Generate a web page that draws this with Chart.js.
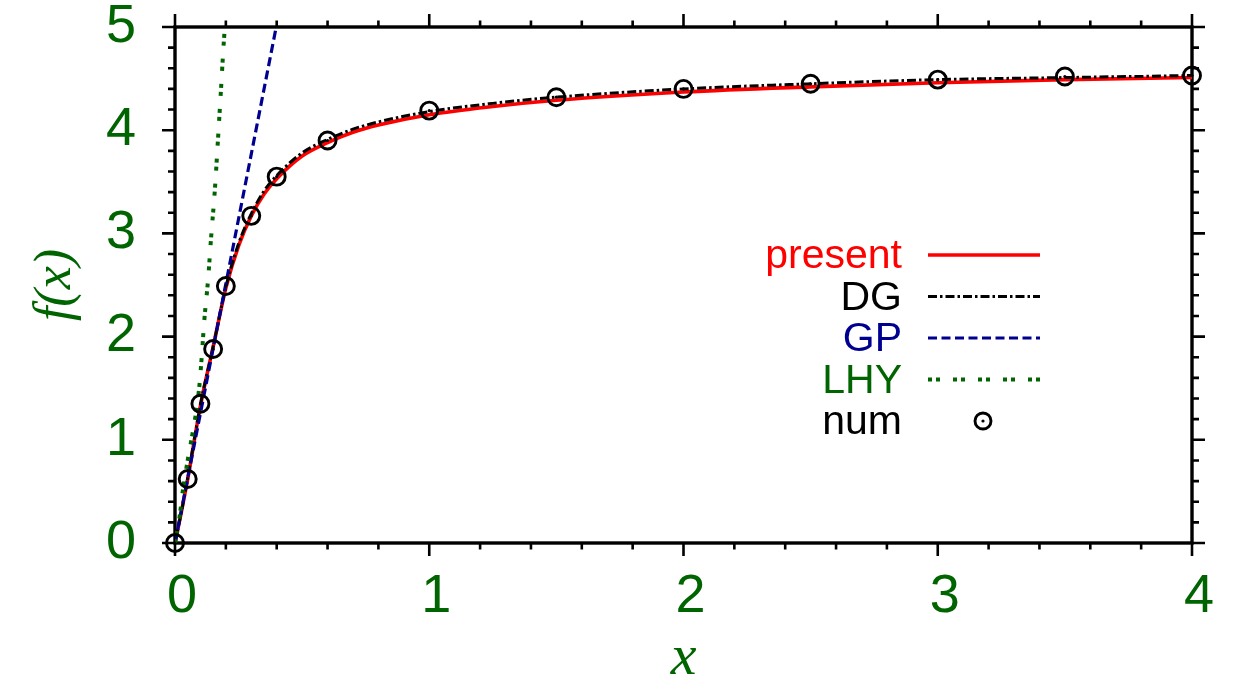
<!DOCTYPE html>
<html><head><meta charset="utf-8">
<script src="https://cdn.jsdelivr.net/npm/chart.js@4.4.1/dist/chart.umd.min.js"></script>
<style>html,body{margin:0;padding:0;background:#fff;overflow:hidden}</style>
</head><body>
<canvas id="c" width="1259" height="690" style="width:1259px;height:690px;display:block"></canvas>
<script>
// ---- data ----
const numX = [0, 0.05, 0.1, 0.15, 0.2, 0.3, 0.4, 0.6, 1.0, 1.5, 2.0, 2.5, 3.0, 3.5, 4.0];
const numY = [0, 0.62, 1.35, 1.88, 2.49, 3.17, 3.55, 3.90, 4.19, 4.32, 4.40, 4.45, 4.49, 4.52, 4.53];

const presentX = [0, 0.025, 0.05, 0.1, 0.15, 0.2, 0.25, 0.3, 0.35, 0.4, 0.5, 0.6, 0.7, 0.8, 1.0, 1.25, 1.5, 2.0, 2.5, 3.0, 3.5, 4.0];
const presentY = [0, 0.30, 0.62, 1.33, 1.90, 2.47, 2.88, 3.17, 3.38, 3.53, 3.75, 3.88, 3.98, 4.05, 4.15, 4.23, 4.29, 4.37, 4.42, 4.46, 4.49, 4.51];

const dgX = [0, 0.025, 0.05, 0.1, 0.15, 0.2, 0.25, 0.3, 0.35, 0.4, 0.5, 0.6, 0.7, 0.8, 1.0, 1.25, 1.5, 2.0, 2.5, 3.0, 3.5, 4.0];
const dgY = [0, 0.30, 0.63, 1.34, 1.90, 2.48, 2.90, 3.19, 3.41, 3.56, 3.78, 3.91, 4.01, 4.08, 4.18, 4.26, 4.32, 4.40, 4.45, 4.49, 4.51, 4.53];

const gpX = [0, 0.398];
const gpY = [0, 5.0];

const lhyX = [0, 0.008, 0.02, 0.031, 0.047, 0.063, 0.08, 0.095, 0.105, 0.115, 0.13, 0.142, 0.157, 0.17, 0.181, 0.19, 0.196];
const lhyY = [0, 0.10, 0.29, 0.51, 0.76, 0.98, 1.22, 1.50, 1.80, 2.15, 2.55, 2.96, 3.43, 3.95, 4.40, 4.78, 5.00];

const xRange = [0, 4];
const yRange = [0, 5];
const majorStep = 1;
const minorStep = 0.2;

const legendLabels = ['present', 'DG', 'GP', 'LHY', 'num'];

// ---- styles ----
const GREEN = '#006400', RED = '#ff0000', NAVY = '#000090', BLACK = '#000000';
const pts = (xs, ys) => xs.map((x, i) => ({x, y: ys[i]}));

const datasets = [
  {label: legendLabels[4], data: pts(numX, numY), showLine: false, pointRadius: 8.5, pointHoverRadius: 8.5,
   pointBorderWidth: 2.9, pointBorderColor: BLACK, pointBackgroundColor: 'rgba(0,0,0,0)', borderColor: BLACK, clip: false, order: 1},
  {label: '_dot', data: pts(numX, numY), showLine: false, pointRadius: 1.6, pointHoverRadius: 1.6,
   pointBorderWidth: 0, pointBackgroundColor: BLACK, borderColor: BLACK, clip: false, order: 0},
  {label: legendLabels[3], data: pts(lhyX, lhyY), borderColor: GREEN, borderWidth: 4, borderDash: [4, 4, 4, 13],
   borderCapStyle: 'butt', pointRadius: 0, cubicInterpolationMode: 'monotone', order: 2},
  {label: legendLabels[2], data: pts(gpX, gpY), borderColor: NAVY, borderWidth: 3.2, borderDash: [9, 4.5],
   borderCapStyle: 'butt', pointRadius: 0, order: 3},
  {label: legendLabels[1], data: pts(dgX, dgY), borderColor: BLACK, borderWidth: 3, borderDash: [9, 3, 2.5, 3],
   borderCapStyle: 'butt', pointRadius: 0, cubicInterpolationMode: 'monotone', order: 4},
  {label: legendLabels[0], data: pts(presentX, presentY), borderColor: RED, borderWidth: 3.6,
   pointRadius: 0, cubicInterpolationMode: 'monotone', order: 5}
];

const framePlugin = {
  id: 'frame',
  beforeDatasetsDraw(chart) {
    const {ctx, chartArea: a, scales: {x, y}} = chart;
    ctx.save();
    ctx.strokeStyle = BLACK;
    ctx.lineCap = 'butt';
    ctx.lineWidth = 2.6;
    const nx = Math.round((xRange[1] - xRange[0]) / minorStep);
    for (let i = 0; i <= nx; i++) {
      const v = xRange[0] + i * minorStep;
      const major = Math.abs(v / majorStep - Math.round(v / majorStep)) < 1e-6;
      const L = major ? 13 : 6.5;
      const px = x.getPixelForValue(v);
      ctx.beginPath();
      ctx.moveTo(px, a.bottom); ctx.lineTo(px, a.bottom + L);
      ctx.moveTo(px, a.top); ctx.lineTo(px, a.top - L);
      ctx.stroke();
    }
    const ny = Math.round((yRange[1] - yRange[0]) / minorStep);
    for (let i = 0; i <= ny; i++) {
      const v = yRange[0] + i * minorStep;
      const major = Math.abs(v / majorStep - Math.round(v / majorStep)) < 1e-6;
      const L = major ? 13 : 7;
      const py = y.getPixelForValue(v);
      ctx.beginPath();
      ctx.moveTo(a.left, py); ctx.lineTo(a.left - L, py);
      ctx.moveTo(a.right, py); ctx.lineTo(a.right + L, py);
      ctx.stroke();
    }
    ctx.lineWidth = 3.4;
    ctx.strokeRect(a.left, a.top, a.right - a.left, a.bottom - a.top);
    ctx.restore();
  },
  afterDraw(chart) {
    const {ctx} = chart;
    ctx.save();
    const textRight = 902, lineL = 928, lineR = 1040, base0 = 268, step = 41.5;
    ctx.font = '41px "Liberation Sans", Arial, sans-serif';
    ctx.textAlign = 'right';
    ctx.textBaseline = 'alphabetic';
    const colors = {present: RED, DG: BLACK, GP: NAVY, LHY: GREEN, num: BLACK};
    legendLabels.forEach((lab, i) => {
      const ds = chart.data.datasets.find(d => d.label === lab);
      const by = base0 + i * step;
      ctx.fillStyle = colors[lab];
      ctx.fillText(lab, textRight, by);
      const ly = by - 13;
      if (ds.showLine === false) {
        const cx = (lineL + lineR) / 2 - 1;
        ctx.beginPath();
        ctx.lineWidth = 2.9; ctx.strokeStyle = BLACK;
        ctx.arc(cx, ly, 8, 0, Math.PI * 2); ctx.stroke();
        ctx.beginPath(); ctx.fillStyle = BLACK;
        ctx.arc(cx, ly, 1.6, 0, Math.PI * 2); ctx.fill();
      } else {
        ctx.beginPath();
        ctx.strokeStyle = ds.borderColor; ctx.lineWidth = ds.borderWidth;
        ctx.lineCap = 'butt';
        ctx.setLineDash(ds.borderDash || []);
        ctx.moveTo(lineL, ly); ctx.lineTo(lineR, ly); ctx.stroke();
        ctx.setLineDash([]);
      }
    });
    ctx.restore();
  }
};

new Chart(document.getElementById('c'), {
  type: 'line',
  data: {datasets},
  plugins: [framePlugin],
  options: {
    responsive: false,
    animation: false,
    devicePixelRatio: 1,
    layout: {padding: {left: 0, right: 67, top: 27, bottom: 0}},
    plugins: {legend: {display: false}, tooltip: {enabled: false}},
    events: [],
    scales: {
      x: {
        type: 'linear', position: 'bottom', min: xRange[0], max: xRange[1],
        ticks: {stepSize: majorStep, color: GREEN, padding: 27, labelOffset: 7, maxRotation: 0, autoSkip: false,
                font: {family: '"Liberation Sans", Arial, sans-serif', size: 54, lineHeight: 1}},
        grid: {display: false, drawTicks: false},
        border: {display: false},
        title: {display: true, text: 'x', color: GREEN, padding: {top: 0, bottom: 2},
                font: {family: '"Liberation Serif", "Times New Roman", serif', style: 'italic', size: 58, lineHeight: 1}},
        afterFit(s) { s.height = 147; s.paddingLeft = 0; s.paddingRight = 0; }
      },
      y: {
        type: 'linear', position: 'left', min: yRange[0], max: yRange[1],
        ticks: {stepSize: majorStep, color: GREEN, padding: 39,
                font: {family: '"Liberation Sans", Arial, sans-serif', size: 54, lineHeight: 1}},
        grid: {display: false, drawTicks: false},
        border: {display: false},
        title: {display: true, text: 'f(x)', color: GREEN, padding: {top: 30, bottom: 0},
                font: {family: '"Liberation Serif", "Times New Roman", serif', style: 'italic', size: 52, lineHeight: 1}},
        afterFit(s) { s.width = 175; s.paddingTop = 0; s.paddingBottom = 0; }
      }
    }
  }
});
</script>
</body></html>
